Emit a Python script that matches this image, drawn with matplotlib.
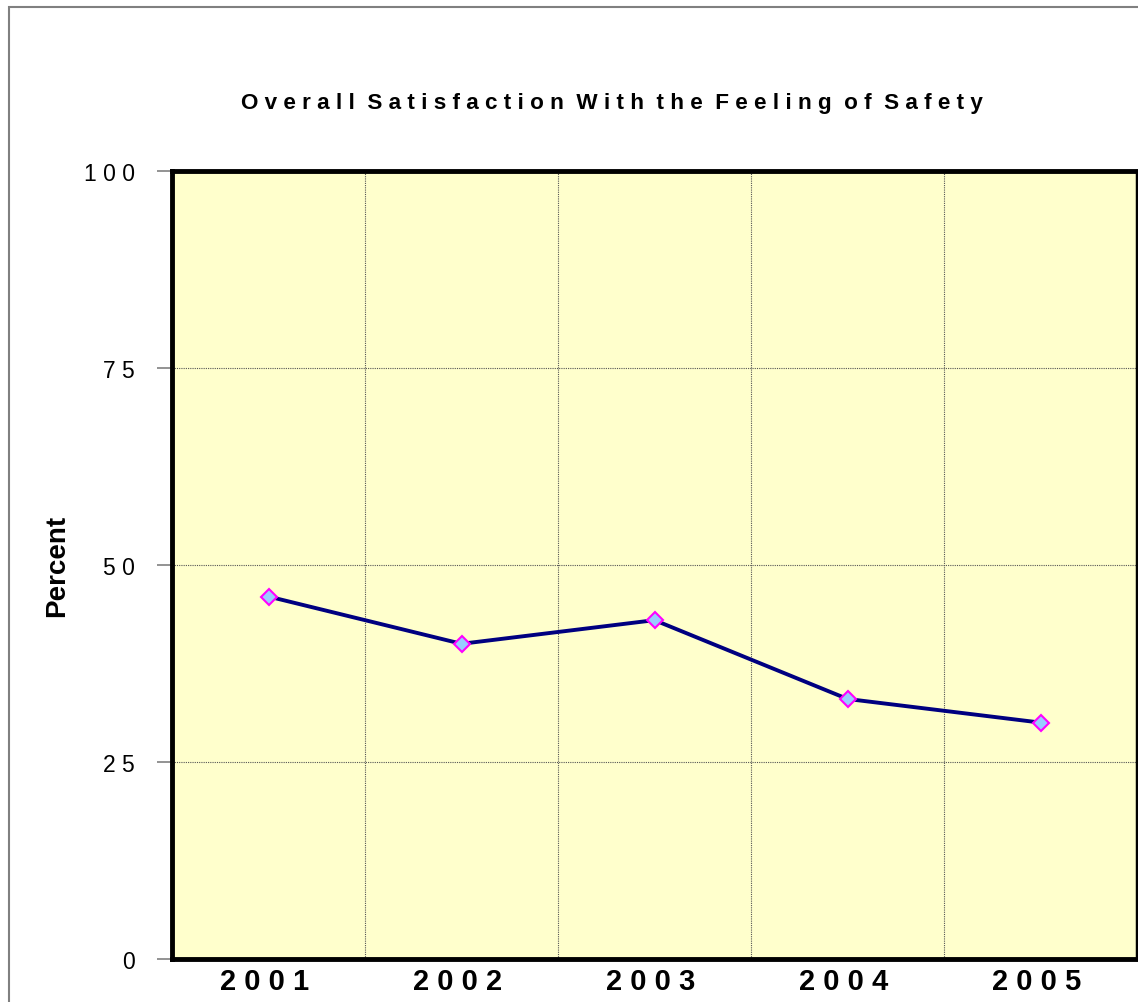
import matplotlib
matplotlib.use('Agg')
import matplotlib.pyplot as plt
from matplotlib.patches import Rectangle

plt.rcParams['font.family'] = ['Liberation Sans', 'DejaVu Sans']

years = ['2001', '2002', '2003', '2004', '2005']
percent = [46, 40, 43, 33, 30]
yticks = [0, 25, 50, 75, 100]
title = 'Overall Satisfaction With the Feeling of Safety'


def spaced(s):
    # mimic the wide letter spacing of the original chart
    return '  '.join(' '.join(w) for w in s.split(' '))


fig = plt.figure(figsize=(11.38, 10.03), dpi=100)
fig.patches.append(Rectangle((9 / 1138, -0.01), 1.1, 1 - 8 / 1003 + 0.01,
                             transform=fig.transFigure, fill=False,
                             edgecolor='#808080', linewidth=1.5))

ax = fig.add_axes([172 / 1138, 43 / 1003, 965 / 1138, 788 / 1003])
ax.set_facecolor('#FFFFCC')

x = list(range(len(years)))
ax.plot(x, percent, color='#000080', linewidth=2.8, marker='D',
        markersize=8, markerfacecolor='#99CCFF', markeredgecolor='#FF00FF',
        markeredgewidth=1.5, zorder=3)

ax.set_xlim(-0.5, len(years) - 0.5)
ax.set_ylim(0, 100)

ax.set_yticks(yticks)
ax.set_yticklabels([' '.join(str(v)) for v in yticks], fontsize=16.5)
ax.tick_params(axis='y', direction='out', length=11, width=1.2,
               color='#808080', pad=16)

ax.set_xticks(x)
ax.set_xticklabels([' '.join(y) + ' ' for y in years], fontsize=21,
                   fontweight='bold')
ax.tick_params(axis='x', length=0, pad=6)

# grid: horizontal at y ticks, vertical at category boundaries
for v in yticks[1:-1]:
    ax.axhline(v, color='#555555', linewidth=0.8, linestyle=(0, (1, 1)),
               zorder=1)
for b in x[:-1]:
    ax.axvline(b + 0.5, color='#555555', linewidth=0.8,
               linestyle=(0, (1, 1)), zorder=1)

for side in ['left', 'bottom', 'top']:
    ax.spines[side].set_linewidth(3.5)
ax.spines['right'].set_linewidth(2.5)

ax.set_ylabel('Percent', fontsize=20, fontweight='bold')
ax.yaxis.set_label_coords(-102 / 965, 0.5)

fig.text(612 / 1138, 1 - 104 / 1003, spaced(title), ha='center',
         va='center', fontsize=16.2, fontweight='bold')

fig.savefig('out.png', dpi=100)
